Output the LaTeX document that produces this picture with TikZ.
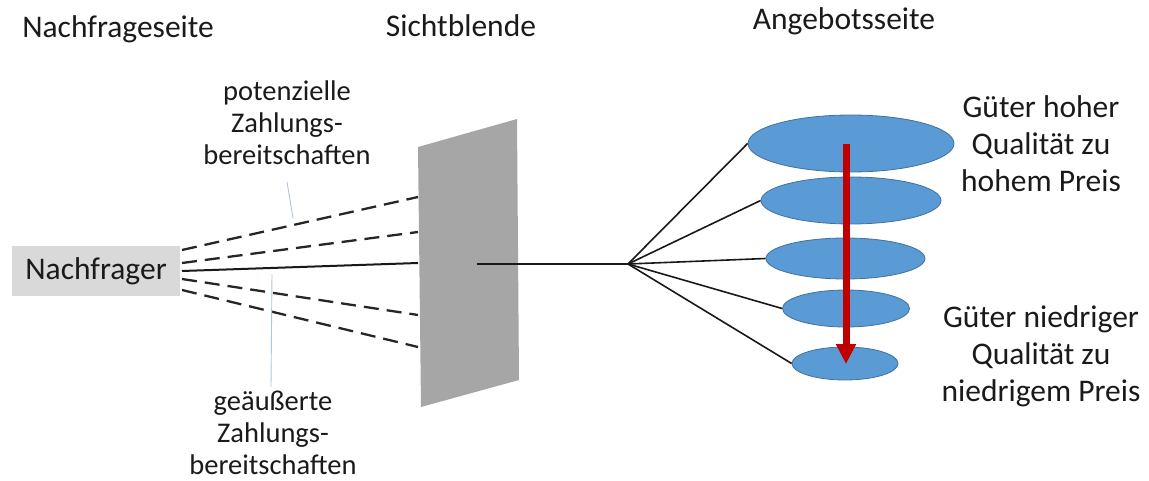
\documentclass[tikz,border=0pt]{standalone}
\usepackage{fontspec}
\setmainfont{Carlito}
\usetikzlibrary{shapes.geometric,arrows.meta}
\definecolor{txt}{HTML}{1A1A1A}
\definecolor{boxgray}{HTML}{D9D9D9}
\definecolor{panelgray}{HTML}{A6A6A6}
\definecolor{ellfill}{HTML}{5B9BD5}
\definecolor{elldraw}{HTML}{41719C}
\definecolor{arrred}{HTML}{C00000}
\definecolor{leader}{HTML}{A9C8E3}
\tikzset{
  title/.style={text=txt,font=\fontsize{31.5}{37}\selectfont,inner sep=0pt},
  lbl/.style={text=txt,font=\fontsize{28.5}{32}\selectfont,align=center,inner sep=0pt},
  rlbl/.style={text=txt,font=\fontsize{31.5}{37}\selectfont,align=center,inner sep=0pt},
  actor/.style={fill=boxgray,text=txt,font=\fontsize{31.5}{37}\selectfont,minimum width=168pt,minimum height=50pt,inner sep=0pt},
  good/.style={ellipse,fill=ellfill,draw=elldraw,line width=0.8pt,inner sep=0pt},
  dashline/.style={draw=black!85,line width=2.3pt,dash pattern=on 15pt off 8pt},
  solidline/.style={draw=black!90,line width=2pt},
  fanline/.style={draw=black!90,line width=1.6pt},
  leaderline/.style={draw=leader,line width=0.9pt},
}
\begin{document}
\begin{tikzpicture}[x=1pt,y=-1pt]
\useasboundingbox (0,0) rectangle (1149,481);
% titles
\node[title] (t1) at (118,29) {Nachfrageseite};
\node[title] (t2) at (461,26) {Sichtblende};
\node[title] (t3) at (844,21) {Angebotsseite};
% actor
\node[actor] (nf) at (96,271) {Nachfrager};
% panel
\coordinate (pTL) at (418,147);
\coordinate (pTR) at (517,119);
\coordinate (pBR) at (519,380);
\coordinate (pBL) at (421,407);
\fill[panelgray] (pTL) -- (pTR) -- (pBR) -- (pBL) -- cycle;
% dashed / solid lines from Nachfrager to panel
\coordinate (s1) at (182,250); \coordinate (e1) at (418,197);
\coordinate (s2) at (182,263); \coordinate (e2) at (418,232);
\coordinate (s3) at (182,271); \coordinate (e3) at (418,263);
\coordinate (s4) at (182,279); \coordinate (e4) at (418,315);
\coordinate (s5) at (182,290); \coordinate (e5) at (418,347);
\draw[dashline] (s1) -- (e1);
\draw[dashline] (s2) -- (e2);
\draw[solidline] (s3) -- (e3);
\draw[dashline] (s4) -- (e4);
\draw[dashline] (s5) -- (e5);
% line through panel to fan point
\coordinate (pm) at (477,264);
\coordinate (fan) at (628,264);
\draw[solidline] (pm) -- (fan);
% goods
\node[good,minimum width=206pt,minimum height=57pt] (g1) at (851,143.5) {};
\node[good,minimum width=180pt,minimum height=47pt] (g2) at (851,200.5) {};
\node[good,minimum width=159pt,minimum height=41pt] (g3) at (845.5,258.5) {};
\node[good,minimum width=127pt,minimum height=37pt] (g4) at (846,308.5) {};
\node[good,minimum width=106pt,minimum height=33pt] (g5) at (845,363.5) {};
\foreach \g in {g1,g2,g3,g4,g5} \draw[fanline] (fan) -- (\g.west);
% red arrow
\coordinate (aS) at (846,144);
\coordinate (aE) at (846,364);
\draw[arrred,line width=7pt,-{Triangle[width=19pt,length=20pt]}] (aS) -- (aE);
% right labels
\node[rlbl] (hi) at (1041,144) {Güter hoher\\Qualität zu\\hohem Preis};
\node[rlbl] (lo) at (1041,356) {Güter niedriger\\Qualität zu\\niedrigem Preis};
% left labels
\node[lbl] (pot) at (287,123) {potenzielle\\Zahlungs-\\bereitschaften};
\node[lbl] (geo) at (273,433) {geäußerte\\Zahlungs-\\bereitschaften};
\coordinate (l1a) at (287,182); \coordinate (l1b) at (293,218);
\coordinate (l2a) at (272,274); \coordinate (l2b) at (271,387);
\draw[leaderline] (l1a) -- (l1b);
\draw[leaderline] (l2a) -- (l2b);
\end{tikzpicture}
\end{document}
